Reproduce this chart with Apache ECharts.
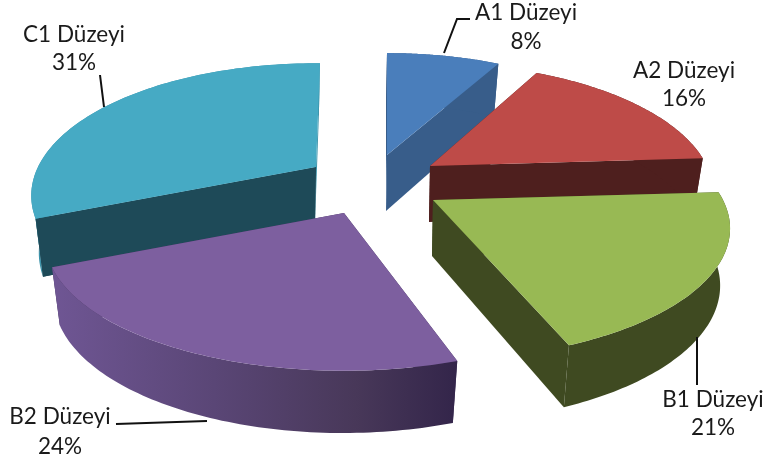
<!DOCTYPE html>
<html><head><meta charset="utf-8">
<style>html,body{margin:0;padding:0;background:#fff}#c{width:766px;height:463px}</style>
<script src="https://cdn.jsdelivr.net/npm/echarts@6/dist/echarts.min.js"></script>
</head><body><div id="c"></div>
<script>
const categories = ['A1 Düzeyi','A2 Düzeyi','B1 Düzeyi','B2 Düzeyi','C1 Düzeyi'];
const values = [8,16,21,24,31];
const topColors = ['#4a7ebb','#be4b48','#98b954','#7d5f9f','#46aac4'];
const faceColors = ['#385d8a','#4e1f1e','#3f4a21','#3f3058','#1e4a58'];
const rimColors = ['#385d8a','#4e1f1e','#3f4a21',null,'#3c93aa'];
// layout: exploded apex position, radii, small angle tweaks of the projected wedge
const layout = [
  {ax:387,ay:155,rx:275,ry:287,ts:0,te:0},
  {ax:430,ay:166,rx:277,ry:289,ts:-1.5,te:0},
  {ax:433,ay:200,rx:290,ry:290,ts:0,te:-4},
  {ax:344,ay:213,rx:291,ry:286,ts:0,te:-2},
  {ax:316,ay:167,rx:278,ry:292,ts:-0.5,te:1}
];
const labelLayout = [
  {x:526,y:13,dy:29,line:[[470,19],[457,19],[444,53]]},
  {x:684,y:71,dy:28,line:[]},
  {x:713,y:400,dy:28,line:[[697,337],[697,385]]},
  {x:60,y:417,dy:30,line:[[116,424],[207,421]]},
  {x:74,y:35,dy:28,line:[[100,75],[104,107]]}
];
const drawOrder = [0,1,4,2,3];
const K = 0.2166, S = 0.432, DEPTH = 56, BX = -1, BSX = 0.97, BSY = 1.04;
const total = values.reduce((a,b)=>a+b,0);

function proj(l,deg){
  const t = deg*Math.PI/180, X = Math.sin(t), Y = -Math.cos(t), w = 1-K*Y;
  return [l.rx*X/w, l.ry*S*Y/w];
}
const topP = (l,d)=>[l.ax+d[0], l.ay+d[1]];
const botP = (l,d)=>[l.ax+BX+d[0]*BSX, l.ay+DEPTH+d[1]*BSY];

function renderItem(params){
  const idx = drawOrder[params.dataIndex], l = layout[idx];
  let before = 0;
  for(let i=0;i<idx;i++) before += values[i];
  const a0 = before/total*360 + l.ts, a1 = (before+values[idx])/total*360 + l.te;
  const arc = [];
  const n = 80;
  for(let i=0;i<=n;i++) arc.push(proj(l, a0+(a1-a0)*i/n));
  const zero = [0,0];
  const poly = (pts,fill)=>({type:'polygon',shape:{points:pts},style:{fill:fill,stroke:null},silent:true});
  const children = [];
  // radial faces
  children.push(poly([topP(l,zero),topP(l,arc[0]),botP(l,arc[0]),botP(l,zero)],faceColors[idx]));
  const endFill = idx===4 ? rimColors[4] : faceColors[idx];
  children.push(poly([topP(l,zero),topP(l,arc[n]),botP(l,arc[n]),botP(l,zero)],endFill));
  // rim
  const rimPts = arc.map(d=>topP(l,d)).concat(arc.slice().reverse().map(d=>botP(l,d)));
  let rimFill = rimColors[idx];
  if(idx===3){
    rimFill = new echarts.graphic.LinearGradient(0,0,1,0,[
      {offset:0,color:'#6f5694'},{offset:0.4,color:'#5a4676'},{offset:0.75,color:'#483859'},{offset:1,color:'#33254a'}]);
  }
  children.push(poly(rimPts,rimFill));
  // left-hand radial face of C1 must stay above its rim
  if(idx===4) children.push(poly([topP(l,zero),topP(l,arc[0]),botP(l,arc[0]),botP(l,zero)],faceColors[idx]));
  // top
  children.push(poly([topP(l,zero)].concat(arc.map(d=>topP(l,d))),topColors[idx]));
  // label + leader
  const lb = labelLayout[idx];
  if(lb.line.length){
    children.push({type:'polyline',shape:{points:lb.line},style:{stroke:'#111',lineWidth:2,fill:null},silent:true});
  }
  children.push({type:'text',style:{x:lb.x,y:lb.y,text:categories[idx],fill:'#1a1a1a',font:'22.5px Lato',align:'center',verticalAlign:'middle'},silent:true});
  children.push({type:'text',style:{x:lb.x,y:lb.y+lb.dy,text:values[idx]+'%',fill:'#1a1a1a',font:'22.5px Lato',align:'center',verticalAlign:'middle'},silent:true});
  return {type:'group',children};
}
const chart = echarts.init(document.getElementById('c'),null,{renderer:'canvas'});
chart.setOption({
  animation:false,
  backgroundColor:'#fff',
  series:[{type:'custom',coordinateSystem:'none',renderItem,silent:true,
    data:drawOrder.map(i=>({name:categories[i],value:values[i]}))}]
});
</script></body></html>
